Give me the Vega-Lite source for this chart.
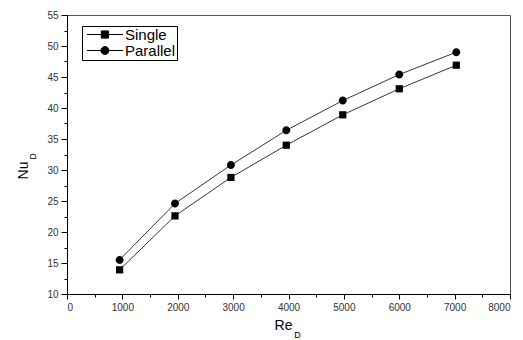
{
  "$schema": "https://vega.github.io/schema/vega-lite/v6.json",
  "width": 443,
  "height": 279,
  "autosize": "none",
  "padding": {"left": 67, "top": 15, "right": 13, "bottom": 46},
  "background": "white",
  "config": {
    "font": "Liberation Sans",
    "view": {"stroke": "#555555", "strokeWidth": 1}
  },
  "data": {
    "values": [
      {"Re": 950, "Nu": 13.9, "series": "Single"},
      {"Re": 1950, "Nu": 22.6, "series": "Single"},
      {"Re": 2960, "Nu": 28.8, "series": "Single"},
      {"Re": 3960, "Nu": 34.0, "series": "Single"},
      {"Re": 4980, "Nu": 38.9, "series": "Single"},
      {"Re": 6000, "Nu": 43.1, "series": "Single"},
      {"Re": 7030, "Nu": 46.9, "series": "Single"},
      {"Re": 950, "Nu": 15.5, "series": "Parallel"},
      {"Re": 1950, "Nu": 24.6, "series": "Parallel"},
      {"Re": 2960, "Nu": 30.8, "series": "Parallel"},
      {"Re": 3960, "Nu": 36.4, "series": "Parallel"},
      {"Re": 4980, "Nu": 41.2, "series": "Parallel"},
      {"Re": 6000, "Nu": 45.4, "series": "Parallel"},
      {"Re": 7030, "Nu": 49.0, "series": "Parallel"}
    ]
  },
  "resolve": {"axis": {"x": "independent", "y": "independent"}, "scale": {"shape": "independent"}},
  "layer": [
    {
      "mark": {"type": "line", "color": "black", "strokeWidth": 0.8},
      "encoding": {
        "x": {
          "field": "Re", "type": "quantitative",
          "scale": {"domain": [0, 8000], "nice": false},
          "axis": {
            "title": "Re",
            "orient": "bottom",
            "values": [0,500,1000,1500,2000,2500,3000,3500,4000,4500,5000,5500,6000,6500,7000,7500,8000],
            "labelExpr": "datum.value % 1000 === 0 ? datum.value : ''",
            "grid": false,
            "domainColor": "black",
            "tickColor": "black",
            "tickSize": {"condition": {"test": "datum.value % 1000 === 0", "value": 5}, "value": 3},
            "labelFontSize": 10,
            "labelColor": "#333333",
            "labelPadding": 3,
            "titleFontSize": 14,
            "titleFontWeight": "normal",
            "titleColor": "black",
            "titleX": 216,
            "titleY": 35,
            "titleBaseline": "alphabetic"
          }
        },
        "y": {
          "field": "Nu", "type": "quantitative",
          "scale": {"domain": [10, 55], "nice": false, "zero": false},
          "axis": {
            "title": "Nu",
            "orient": "left",
            "values": [10,12.5,15,17.5,20,22.5,25,27.5,30,32.5,35,37.5,40,42.5,45,47.5,50,52.5,55],
            "labelExpr": "datum.value % 5 === 0 ? datum.value : ''",
            "grid": false,
            "domainColor": "black",
            "tickColor": "black",
            "tickSize": {"condition": {"test": "datum.value % 5 === 0", "value": 6}, "value": 3},
            "labelFontSize": 10,
            "labelColor": "#333333",
            "labelPadding": 3,
            "titleFontSize": 14,
            "titleFontWeight": "normal",
            "titleColor": "black",
            "titleX": -40,
            "titleY": 155,
            "titleBaseline": "alphabetic"
          }
        },
        "detail": {"field": "series"}
      }
    },
    {
      "mark": {"type": "point", "filled": true, "color": "black", "opacity": 1, "size": 52, "strokeWidth": 0},
      "encoding": {
        "x": {
          "field": "Re", "type": "quantitative",
          "axis": {
            "title": "D",
            "orient": "top",
            "labels": false, "ticks": false, "domain": false, "grid": false,
            "titleFontSize": 9,
            "titleFontWeight": "normal",
            "titleColor": "black",
            "titleX": 230,
            "titleY": 322,
            "titleBaseline": "alphabetic"
          }
        },
        "y": {
          "field": "Nu", "type": "quantitative",
          "axis": {
            "title": "D",
            "orient": "right",
            "labels": false, "ticks": false, "domain": false, "grid": false,
            "titleFontSize": 9,
            "titleFontWeight": "normal",
            "titleColor": "black",
            "titleX": -475,
            "titleY": 141,
            "titleAngle": -90,
            "titleBaseline": "alphabetic"
          }
        },
        "shape": {
          "field": "series", "type": "nominal",
          "scale": {
            "domain": ["Single", "Parallel"],
            "range": ["M-1,-1H1V1H-1Z", "M1.1,0A1.1,1.1,0,1,1,-1.1,0A1.1,1.1,0,1,1,1.1,0Z"]
          },
          "legend": null
        }
      }
    },
    {
      "mark": {"type": "point", "filled": true, "color": "black", "opacity": 0, "size": 52, "strokeWidth": 0},
      "encoding": {
        "x": {"field": "Re", "type": "quantitative", "axis": null},
        "y": {"field": "Nu", "type": "quantitative", "axis": null},
        "shape": {
          "field": "series", "type": "nominal",
          "scale": {
            "domain": ["Single", "Parallel"],
            "range": ["M-1,0H9M3,-1H5V1H3Z", "M-1,0H9M5.1,0A1.1,1.1,0,1,1,2.9,0A1.1,1.1,0,1,1,5.1,0Z"]
          },
          "legend": {
            "title": null,
            "orient": "none",
            "legendX": 15,
            "legendY": 11,
            "strokeColor": "black",
            "padding": 1,
            "labelFontSize": 15,
            "labelColor": "black",
            "labelOffset": 27,
            "rowPadding": -1,
            "symbolSize": 52,
            "symbolOpacity": 1,
            "symbolStrokeWidth": 1,
            "symbolStrokeColor": "black",
            "symbolFillColor": "black",
            "encoding": {
              "symbols": {
                "stroke": {"value": "black"},
                "strokeWidth": {"value": 1},
                "opacity": {"value": 1}
              }
            }
          }
        }
      }
    }
  ]
}
